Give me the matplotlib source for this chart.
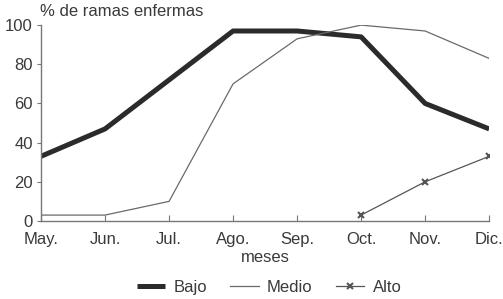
import matplotlib
matplotlib.use("Agg")
import matplotlib.pyplot as plt

months = ["May.", "Jun.", "Jul.", "Ago.", "Sep.", "Oct.", "Nov.", "Dic."]
bajo = [33, 47, 72, 97, 97, 94, 60, 47]
medio = [3, 3, 10, 70, 93, 100, 97, 83]
alto_months = ["Oct.", "Nov.", "Dic."]
alto = [3, 20, 33]

plt.rcParams['font.family'] = ['Liberation Sans', 'DejaVu Sans']
fig = plt.figure(figsize=(5.03, 2.99), dpi=100)
ax = fig.add_axes([0.0815, 0.261, 0.891, 0.655])
x = list(range(len(months)))
xa = [months.index(m) for m in alto_months]
ink = "#3a3a3a"
ax.plot(x, bajo, color="#2b2b2b", lw=3.6, solid_capstyle='butt', label="Bajo")
ax.plot(x, medio, color="#6a6a6a", lw=0.9, label="Medio")
ax.plot(xa, alto, color="#555555", lw=0.9, marker='x', ms=5, mew=1.5, label="Alto")
ax.set_xlim(0, len(months) - 1)
ax.set_ylim(0, 100)
ax.set_xticks(x)
ax.set_xticklabels(months)
ax.set_yticks([0, 20, 40, 60, 80, 100])
for s in ["top", "right"]:
    ax.spines[s].set_visible(False)
for s in ["left", "bottom"]:
    ax.spines[s].set_color("#777777")
    ax.spines[s].set_linewidth(1.0)
ax.tick_params(axis='x', direction='in', length=4, color="#777777", labelsize=12, labelcolor=ink, pad=8)
ax.tick_params(axis='y', direction='out', length=3, color="#777777", labelsize=12, labelcolor=ink, pad=3)
ax.set_xlabel("meses", fontsize=12, color=ink, labelpad=2)
fig.text(0.08, 0.935, "% de ramas enfermas", fontsize=12, color=ink, ha='left', va='bottom')
fig.legend(loc='center', bbox_to_anchor=(0.535, 0.038), ncol=3, frameon=False, fontsize=12,
           handlelength=1.7, columnspacing=1.4, handletextpad=0.5, labelcolor=ink)
fig.savefig("out.png", dpi=100)
